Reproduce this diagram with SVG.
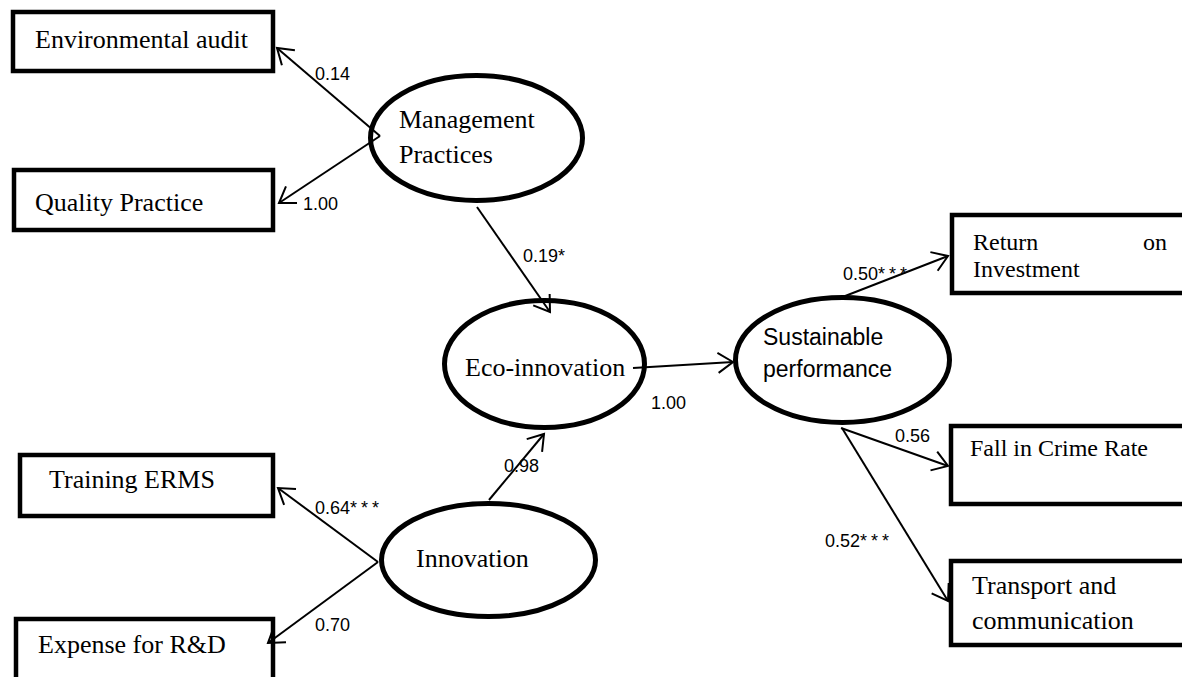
<svg xmlns="http://www.w3.org/2000/svg" width="1182" height="677" viewBox="0 0 1182 677">
<style>
.box{fill:#fff;stroke:#000;stroke-width:4.5}
.ell{fill:#fff;stroke:#000;stroke-width:5}
.t{font-family:"Liberation Serif","Times New Roman",serif;font-size:26px;fill:#000}
.ts{font-family:"Liberation Serif","Times New Roman",serif;font-size:24px;fill:#000}
.s{font-family:"Liberation Sans",Arial,sans-serif;font-size:23px;fill:#000}
.lbl{font-family:"Liberation Sans",Arial,sans-serif;font-size:18px;fill:#000}
.ast{letter-spacing:4px}
.c{stroke:#000;stroke-width:2;fill:none;marker-end:url(#arr)}
</style>
<defs>
<marker id="arr" markerUnits="userSpaceOnUse" markerWidth="20" markerHeight="24" viewBox="0 0 20 24" refX="17" refY="12" orient="auto" overflow="visible">
<path d="M2,2 L17,12 L2,22" fill="none" stroke="#000" stroke-width="2"/>
</marker>
</defs>
<rect width="1182" height="677" fill="#fff"/>

<g id="env-audit"><rect class="box" x="13" y="12" width="260" height="59"/><text class="t" x="35" y="48">Environmental audit</text></g>
<g id="quality-practice"><rect class="box" x="14" y="170" width="259" height="60"/><text class="t" x="35" y="211">Quality Practice</text></g>
<g id="training-erms"><rect class="box" x="20" y="455" width="253" height="61"/><text class="t" x="49" y="488">Training ERMS</text></g>
<g id="expense-rd"><rect class="box" x="16" y="619" width="257" height="80"/><text class="t" x="38" y="653">Expense for R&amp;D</text></g>
<g id="return-investment"><rect class="box" x="952" y="215" width="250" height="78"/><text class="ts" y="250"><tspan x="973">Return </tspan><tspan x="1167" text-anchor="end">on</tspan></text><text class="ts" x="973" y="277">Investment</text></g>
<g id="fall-crime"><rect class="box" x="951" y="426" width="250" height="78"/><text class="ts" x="970" y="456">Fall in Crime Rate</text></g>
<g id="transport"><rect class="box" x="951" y="561" width="250" height="84"/><text class="t" x="972" y="594">Transport and</text><text class="t" x="972" y="629">communication</text></g>

<g id="management-practices"><ellipse class="ell" cx="476.5" cy="138" rx="106" ry="62.5"/><text class="t" x="399" y="128">Management</text><text class="t" x="399" y="163">Practices</text></g>
<g id="eco-innovation"><ellipse class="ell" cx="544.5" cy="364" rx="100" ry="63.5"/><text class="t" x="465" y="376">Eco-innovation</text></g>
<g id="sustainable-performance"><ellipse class="ell" cx="842.5" cy="360" rx="107" ry="62.5"/><text class="s" x="763" y="345">Sustainable</text><text class="s" x="763" y="377">performance</text></g>
<g id="innovation"><ellipse class="ell" cx="488.5" cy="560" rx="107" ry="56.5"/><text class="t" x="416" y="567">Innovation</text></g>

<g id="connectors">
<line class="c" x1="380" y1="136" x2="277" y2="48"/>
<line class="c" x1="380" y1="136" x2="279" y2="203"/>
<line class="c" x1="477" y1="207" x2="550" y2="312"/>
<line class="c" x1="633" y1="368" x2="733" y2="362"/>
<line class="c" x1="489" y1="500" x2="544" y2="434"/>
<line class="c" x1="378" y1="562" x2="278" y2="488"/>
<line class="c" x1="378" y1="562" x2="268" y2="643"/>
<line class="c" x1="840" y1="298" x2="948" y2="256"/>
<line class="c" x1="841" y1="428" x2="948" y2="466"/>
<line class="c" x1="842" y1="428" x2="948" y2="601"/>
<text class="lbl" x="315" y="80">0.14</text>
<text class="lbl" x="303" y="210">1.00</text>
<text class="lbl" x="523" y="262">0.19*</text>
<text class="lbl" x="651" y="409">1.00</text>
<text class="lbl" x="504" y="472">0.98</text>
<text class="lbl" x="315" y="514">0.64<tspan class="ast">***</tspan></text>
<text class="lbl" x="315" y="631">0.70</text>
<text class="lbl" x="843" y="280">0.50<tspan class="ast">***</tspan></text>
<text class="lbl" x="895" y="442">0.56</text>
<text class="lbl" x="825" y="547">0.52<tspan class="ast">***</tspan></text>
</g>
</svg>
